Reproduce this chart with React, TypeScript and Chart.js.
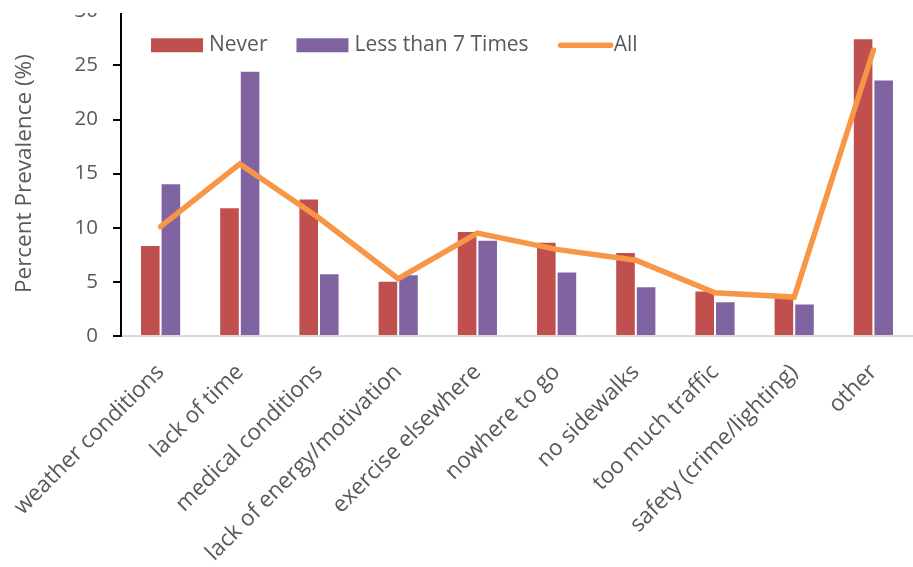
import React, { useEffect, useRef } from "react";
import { Chart, registerables } from "chart.js";

Chart.register(...registerables);

const categories = [
  "weather conditions",
  "lack of time",
  "medical conditions",
  "lack of energy/motivation",
  "exercise elsewhere",
  "nowhere to go",
  "no sidewalks",
  "too much traffic",
  "safety (crime/lighting)",
  "other",
];

const neverValues = [8.4, 11.9, 12.7, 5.1, 9.7, 8.7, 7.75, 4.2, 3.6, 27.5];
const lessThan7Values = [14.1, 24.5, 5.8, 5.7, 8.9, 5.95, 4.6, 3.2, 3.0, 23.7];
const allValues = [10.1, 15.9, 10.9, 5.3, 9.5, 8.0, 7.0, 4.0, 3.6, 26.4];

const seriesLabels = ["Never", "Less than 7 Times", "All"];
const yTicks = [0, 5, 10, 15, 20, 25, 30];

const FONT = "'Open Sans', 'Noto Sans', sans-serif";
const TEXT = "#595959";
const RED = "#C0504D";
const PURPLE = "#8064A2";
const ORANGE = "#F79646";

// The canvas sits slightly above the page top; this strip of it stays blank
const HIDDEN_TOP = 14;
const CROP_BAND = HIDDEN_TOP + 13;

// Legend drawn inside the plot, along its top edge
const innerLegend = {
  id: "innerLegend",
  afterDraw(chart: any) {
    const { ctx, chartArea } = chart;
    ctx.save();
    ctx.font = `21px ${FONT}`;
    ctx.textBaseline = "middle";
    ctx.textAlign = "left";
    let x = chartArea.left + 30;
    const y = chartArea.top + 34;
    chart.data.datasets.forEach((ds: any) => {
      if (ds.type === "line") {
        ctx.strokeStyle = ds.borderColor;
        ctx.lineWidth = 5.5;
        ctx.lineCap = "round";
        ctx.beginPath();
        ctx.moveTo(x + 3, y);
        ctx.lineTo(x + 53, y);
        ctx.stroke();
        x += 56;
      } else {
        ctx.fillStyle = ds.backgroundColor;
        ctx.fillRect(x, y - 7, 52, 14);
        x += 58;
      }
      ctx.fillStyle = TEXT;
      ctx.fillText(ds.label, x, y);
      x += ctx.measureText(ds.label).width + 29;
    });
    ctx.fillStyle = "#ffffff";
    ctx.fillRect(0, 0, chart.width, CROP_BAND);
    ctx.restore();
  },
};

export default function App() {
  const canvasRef = useRef<HTMLCanvasElement | null>(null);

  useEffect(() => {
    const canvas = canvasRef.current;
    if (!canvas) return;
    const chart = new Chart(canvas, {
      type: "bar",
      data: {
        labels: categories,
        datasets: [
          {
            type: "bar",
            label: seriesLabels[0],
            data: neverValues,
            backgroundColor: RED,
            borderColor: "rgba(255,255,255,0.45)",
            borderWidth: 1,
            order: 1,
          },
          {
            type: "bar",
            label: seriesLabels[1],
            data: lessThan7Values,
            backgroundColor: PURPLE,
            borderColor: "rgba(255,255,255,0.45)",
            borderWidth: 1,
            order: 1,
          },
          {
            type: "line",
            label: seriesLabels[2],
            data: allValues,
            borderColor: ORANGE,
            backgroundColor: ORANGE,
            borderWidth: 5.5,
            borderCapStyle: "round",
            borderJoinStyle: "miter",
            tension: 0,
            pointRadius: 0,
            order: 0,
          } as any,
        ],
      },
      options: {
        animation: false,
        responsive: false,
        maintainAspectRatio: false,
        layout: { padding: { top: 0, left: 0, right: 0, bottom: 0 } },
        plugins: {
          legend: { display: false },
          tooltip: { enabled: false },
        },
        datasets: {
          bar: { categoryPercentage: 0.52, barPercentage: 1.0 },
        },
        scales: {
          x: {
            offset: true,
            grid: { display: false },
            border: { display: true, color: "#D9D9D9", width: 2 },
            ticks: {
              font: { family: FONT, size: 22.5 },
              color: TEXT,
              minRotation: 45,
              maxRotation: 45,
              autoSkip: false,
              padding: 15,
            },
            afterFit(scale: any) {
              scale.height = 231;
              scale.paddingLeft = 0;
              scale.paddingRight = 0;
            },
          },
          y: {
            min: 0,
            max: 30,
            afterBuildTicks(scale: any) {
              scale.ticks = yTicks.map((v) => ({ value: v }));
            },
            grid: {
              drawOnChartArea: false,
              drawTicks: true,
              tickLength: 8,
              color: "#000000",
              lineWidth: 2,
            },
            border: { display: true, color: "#000000", width: 2 },
            ticks: {
              font: { family: FONT, size: 20.5, lineHeight: 1 },
              color: TEXT,
              padding: 15,
            },
            title: {
              display: true,
              text: "Percent Prevalence (%)",
              font: { family: FONT, size: 22.5 },
              color: TEXT,
              padding: { top: 11, bottom: 0 },
            },
            afterFit(scale: any) {
              scale.width = 121;
            },
          },
        },
      },
      plugins: [innerLegend],
    });
    return () => chart.destroy();
  }, []);

  return (
    <div style={{ position: "absolute", left: 0, top: 0, width: 913, height: 567, overflow: "hidden", background: "#fff" }}>
      <canvas
        ref={canvasRef}
        width={913}
        height={567 + HIDDEN_TOP}
        style={{ display: "block", marginTop: -HIDDEN_TOP }}
      />
    </div>
  );
}
